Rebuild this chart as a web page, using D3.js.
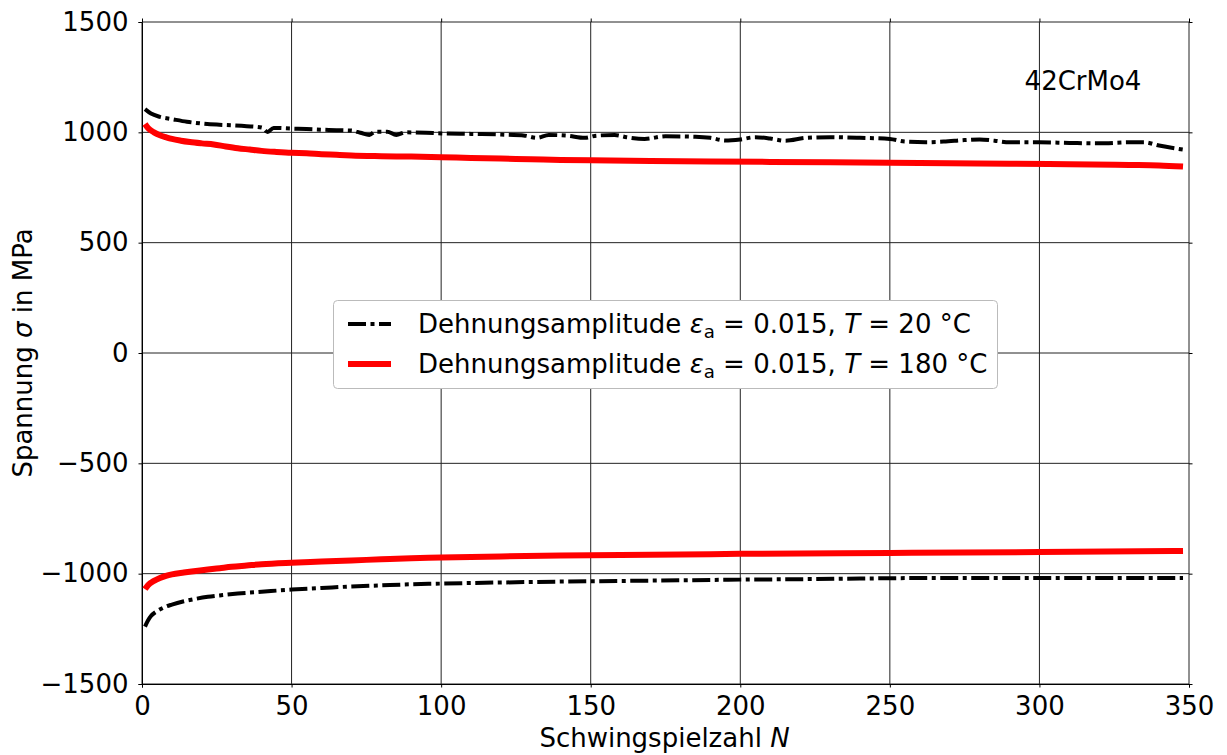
<!DOCTYPE html>
<html><head><meta charset="utf-8">
<script src="https://cdn.jsdelivr.net/npm/d3@7"></script>
<style>body{margin:0;background:#fff}svg{display:block}text{font-family:"DejaVu Sans",sans-serif}</style>
</head><body>
<svg id="c" width="1227" height="755"></svg>
<script>
const xTicks = [0,50,100,150,200,250,300,350];
const yTicks = [-1500,-1000,-500,0,500,1000,1500];

// T = 20 °C, upper (max) stress
const black_upper_N = [1,3,6,10,15,20,25,30,35,40,42,44,50,55,60,65,70,73,76,78,82,85,88,95,100,110,120,128,132,136,142,148,152,158,162,168,175,185,190,195,200,205,210,215,222,230,240,250,255,262,268,275,280,285,290,300,310,320,330,335,340,348];
const black_upper_S = [1105,1085,1070,1060,1048,1040,1035,1032,1028,1022,1002,1020,1017,1015,1012,1010,1008,998,988,1003,1003,988,1000,998,995,993,990,985,975,988,985,975,985,988,978,970,982,980,975,963,968,978,972,962,975,978,975,970,958,955,958,965,968,962,955,955,952,950,955,955,940,922];
// T = 20 °C, lower (min) stress
const black_lower_N = [1,2,3,5,7,10,14,18,22,27,32,40,50,60,70,80,90,100,120,140,160,180,200,220,240,260,280,300,320,348];
const black_lower_S = [-1240,-1212,-1192,-1170,-1155,-1140,-1125,-1114,-1105,-1097,-1090,-1082,-1072,-1065,-1058,-1053,-1048,-1045,-1040,-1036,-1033,-1030,-1027,-1025,-1022,-1020,-1020,-1020,-1020,-1020];
// T = 180 °C, upper stress
const red_upper_N = [1,2,4,6,8,10,13,16,20,24,28,32,36,40,45,50,55,60,65,70,80,90,100,110,120,130,140,150,170,190,210,230,250,270,290,310,330,340,348];
const red_upper_S = [1038,1020,1000,987,978,970,962,956,950,945,936,928,922,916,911,907,905,901,898,895,892,890,887,884,881,878,875,873,870,868,866,864,862,860,858,855,852,850,845];
// T = 180 °C, lower stress
const red_lower_N = [1,2,4,6,8,10,14,18,22,26,30,35,40,50,60,70,80,90,100,120,140,160,180,200,250,300,348];
const red_lower_S = [-1070,-1052,-1033,-1020,-1010,-1003,-995,-988,-981,-975,-969,-963,-957,-950,-945,-940,-935,-930,-927,-922,-918,-915,-913,-910,-906,-902,-897];

const svg = d3.select("#c");
const M = {l:142, r:1189, t:22, b:684};
const x = d3.scaleLinear().domain([0,350]).range([M.l,M.r]);
const y = d3.scaleLinear().domain([-1500,1500]).range([M.b,M.t]);
const fs = 26;

// grid
const g = svg.append("g");
g.selectAll(".gx").data(xTicks).enter().append("line")
  .attr("x1",d=>x(d)).attr("x2",d=>x(d)).attr("y1",M.t).attr("y2",M.b)
  .attr("stroke","#222").attr("stroke-width",1);
g.selectAll(".gy").data(yTicks).enter().append("line")
  .attr("x1",M.l).attr("x2",M.r).attr("y1",d=>y(d)).attr("y2",d=>y(d))
  .attr("stroke","#222").attr("stroke-width",1);

// axes
const xa = svg.append("g").attr("transform",`translate(0,${M.b})`)
  .call(d3.axisBottom(x).tickValues(xTicks).tickSize(3.5).tickPadding(9).tickFormat(d3.format("d")));
const ya = svg.append("g").attr("transform",`translate(${M.l},0)`)
  .call(d3.axisLeft(y).tickValues(yTicks).tickSize(3.5).tickPadding(10).tickFormat(d=>d<0?"\u2212"+Math.abs(d):String(d)));
[xa,ya].forEach(a=>{
  a.select(".domain").attr("stroke","#000").attr("stroke-width",1);
  a.selectAll(".tick line").attr("stroke","#000");
  a.selectAll(".tick text").attr("font-size",fs).attr("fill","#000").attr("font-family","DejaVu Sans");
});
// right/top ticks
svg.append("g").attr("transform",`translate(${M.r},0)`)
  .call(d3.axisRight(y).tickValues(yTicks).tickSize(3.5).tickFormat(""))
  .call(a=>{a.select(".domain").remove();a.selectAll("line").attr("stroke","#000");});
svg.append("g").attr("transform",`translate(0,${M.t})`)
  .call(d3.axisTop(x).tickValues(xTicks).tickSize(3.5).tickFormat(""))
  .call(a=>{a.select(".domain").remove();a.selectAll("line").attr("stroke","#000");});

// lines
const line = d3.line().x(d=>x(d[0])).y(d=>y(d[1])).curve(d3.curveMonotoneX);
const zip = (a,b)=>a.map((v,i)=>[v,b[i]]);
const dash = "18,4.5,4,4.5";
[[red_upper_N,red_upper_S],[red_lower_N,red_lower_S]].forEach(s=>{
  svg.append("path").datum(zip(s[0],s[1])).attr("d",line)
    .attr("fill","none").attr("stroke","#ff0000").attr("stroke-width",6);
});
[[black_upper_N,black_upper_S],[black_lower_N,black_lower_S]].forEach(s=>{
  svg.append("path").datum(zip(s[0],s[1])).attr("d",line)
    .attr("fill","none").attr("stroke","#000").attr("stroke-width",4).attr("stroke-dasharray",dash);
});

// labels
svg.append("text").attr("x",(M.l+M.r)/2 - 1).attr("y",747).attr("text-anchor","middle").attr("font-size",fs)
  .call(t=>{t.append("tspan").text("Schwingspielzahl ");t.append("tspan").attr("font-style","italic").text("N");});
svg.append("text").attr("transform",`translate(32,${(M.t+M.b)/2}) rotate(-90)`).attr("text-anchor","middle").attr("font-size",fs)
  .call(t=>{t.append("tspan").text("Spannung ");t.append("tspan").attr("font-style","italic").text("σ");t.append("tspan").text(" in MPa");});
svg.append("text").attr("x",1083).attr("y",90).attr("text-anchor","middle").attr("font-size",fs).text("42CrMo4");

// legend
const leg = svg.append("g");
leg.append("rect").attr("x",333.5).attr("y",300.5).attr("width",664).attr("height",88).attr("rx",4)
  .attr("fill","#fff").attr("stroke","#bbb").attr("stroke-width",1);
const items = [{c:"#000",w:4,d:dash,t:"20"},{c:"#ff0000",w:6,d:null,t:"180"}];
items.forEach((it,i)=>{
  const cy = 324 + i*40;
  leg.append("line").attr("x1",348).attr("x2",391).attr("y1",cy).attr("y2",cy)
    .attr("stroke",it.c).attr("stroke-width",it.w).attr("stroke-dasharray",it.d);
  const t = leg.append("text").attr("x",418).attr("y",cy+9).attr("font-size",fs);
  t.append("tspan").text("Dehnungsamplitude ");
  t.append("tspan").attr("font-style","italic").text("ε");
  t.append("tspan").attr("font-size",fs*0.7).attr("dy",5).text("a");
  t.append("tspan").attr("dy",-5).text(" =  0.015, ");
  t.append("tspan").attr("font-style","italic").text("T");
  t.append("tspan").text(" = "+it.t+" °C");
});
</script>
</body></html>
